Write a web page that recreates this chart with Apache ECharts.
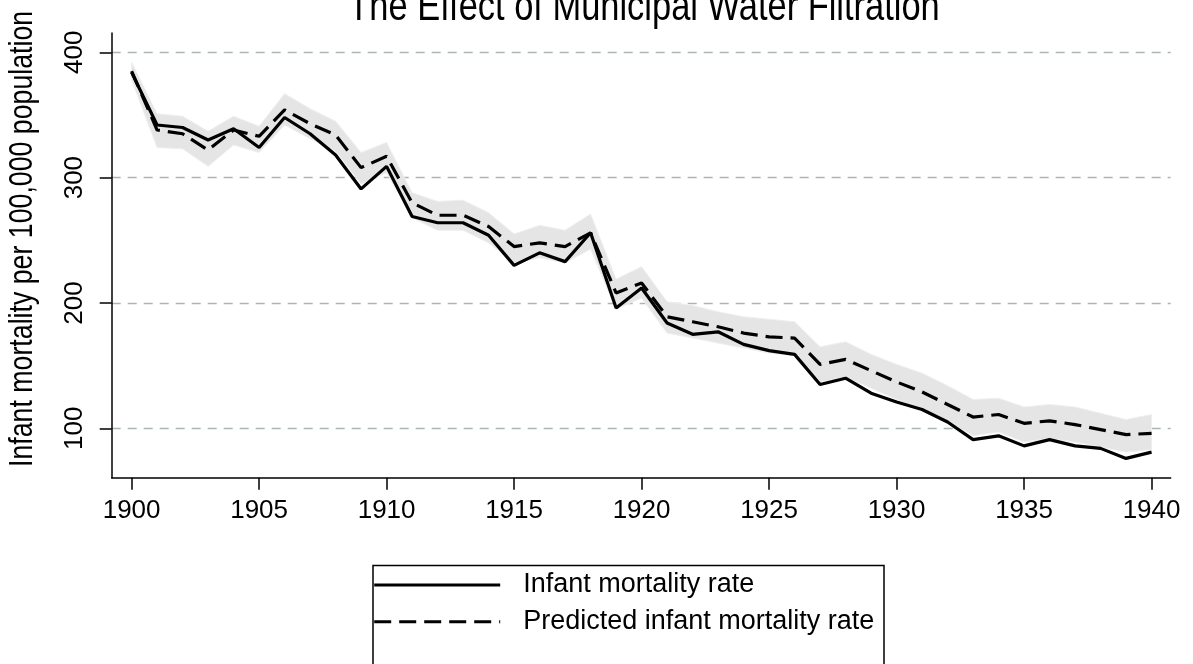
<!DOCTYPE html>
<html>
<head>
<meta charset="utf-8">
<script src="https://cdn.jsdelivr.net/npm/echarts@6/dist/echarts.min.js"></script>
<style>
html,body{margin:0;padding:0;background:#fff;}
#chart{width:1193px;height:664px;}
</style>
</head>
<body>
<div id="chart"></div>
<script>
const years = [1900,1901,1902,1903,1904,1905,1906,1907,1908,1909,1910,1911,1912,1913,1914,1915,1916,1917,1918,1919,1920,1921,1922,1923,1924,1925,1926,1927,1928,1929,1930,1931,1932,1933,1934,1935,1936,1937,1938,1939,1940];
const actualRate = [384,342,340,330,339,324,348,335,318,291,309,269,264,264,254,230,240,233,256,196,212,184,175,177,167,162,159,135,140,128,121,115,105,91,94,86,91,86,84,76,81];
const predictedRate = [385,338,335,322,338,333,354,343,334,308,317,280,270,270,261,245,248,245,256,208,216,189,185,181,176,173,172,151,155,146,137,129,119,109,111,104,106,103,99,95,96];
const ciUpper = [392,351,349,337,349,341,367,355,345,320,328,288,281,282,272,255,262,258,271,219,229,201,198,193,189,187,185,165,169,159,151,144,134,123,124,117,119,117,112,107,111];
const ciLower = [378,324,323,309,326,320,342,331,321,295,304,268,258,258,248,232,236,232,243,195,204,176,172,168,164,160,158,137,141,132,123,116,106,94,97,89,92,89,85,81,83];
const xTicks = [1900,1905,1910,1915,1920,1925,1930,1935,1940];
const yTicks = [100,200,300,400];
const titleText = 'The Effect of Municipal Water Filtration';
const yTitle = 'Infant mortality per 100,000 population';
const seriesNames = ['Infant mortality rate','Predicted infant mortality rate'];

const FONT = "'Liberation Sans','Arial',sans-serif";

const chart = echarts.init(document.getElementById('chart'), null, {renderer:'canvas'});
const pair = (ys) => years.map((y,i)=>[y, ys[i]]);

chart.setOption({
  animation:false,
  backgroundColor:'#fff',
  grid:{left:111.7, right:1193-1170.7, top:33, bottom:664-477.7, containLabel:false},
  xAxis:{
    type:'value', min:1899.22, max:1940.75,
    axisLine:{show:true, onZero:false, lineStyle:{color:'#000', width:1.5}},
    axisTick:{show:true, length:12, lineStyle:{color:'#000', width:1.5}, customValues:xTicks},
    axisLabel:{show:true, customValues:xTicks, margin:20, fontFamily:FONT, fontSize:26, color:'#000', formatter:(v)=>String(v)},
    splitLine:{show:false}
  },
  yAxis:{
    type:'value', min:60.6, max:415.4,
    axisLine:{show:true, onZero:false, lineStyle:{color:'#000', width:1.5}},
    axisTick:{show:true, length:12, lineStyle:{color:'#000', width:1.5}, customValues:yTicks},
    axisLabel:{show:true, customValues:yTicks, rotate:90, margin:24, fontFamily:FONT, fontSize:26, color:'#000'},
    splitLine:{show:true, lineStyle:{color:'#aab6b4', width:1.3, type:[9,7]}}
  },
  legend:{
    show:true, orient:'vertical', left:367.7, top:565,
    itemWidth:126, itemHeight:14, itemGap:6.7,
    data:seriesNames,
    itemStyle:{opacity:0},
    lineStyle:{width:3},
    textStyle:{fontFamily:FONT, fontSize:27, lineHeight:30, color:'#000', padding:[0,0,0,18]},
    selectedMode:false
  },
  graphic:[
    {type:'rect', left:370.5, top:563, shape:{width:511, height:110}, style:{fill:'none', stroke:'#000', lineWidth:1.5}, z:-1},
    {type:'text', x:644, y:8, scaleX:0.82, style:{text:titleText, fontFamily:FONT, fontSize:42, fill:'#000', textAlign:'center', textVerticalAlign:'middle'}},
    {type:'text', x:23, y:467, rotation:Math.PI/2, scaleX:0.81, style:{text:yTitle, fontFamily:FONT, fontSize:33, fill:'#000', textAlign:'left', textVerticalAlign:'middle'}}
  ],
  series:[
    {
      type:'custom', name:'ciBand', silent:true, z:1,
      data:[[years[0], ciUpper[0]]],
      encode:{x:0, y:1},
      renderItem:(params, api)=>{
        const pts = [];
        for (let i=0;i<years.length;i++) pts.push(api.coord([years[i], ciUpper[i]]));
        for (let i=years.length-1;i>=0;i--) pts.push(api.coord([years[i], ciLower[i]]));
        return {type:'polygon', shape:{points:pts}, style:{fill:'#e5e5e5', stroke:'#eef0f0', lineWidth:1}};
      }
    },
    {type:'line', name:seriesNames[0], data:pair(actualRate), symbol:'none', lineStyle:{color:'#000', width:3.2, type:'solid'}, itemStyle:{color:'#000'}, z:3},
    {type:'line', name:seriesNames[1], data:pair(predictedRate), symbol:'none', lineStyle:{color:'#000', width:3.2, type:[17,8]}, itemStyle:{color:'#000'}, z:3}
  ]
});
</script>
</body>
</html>
